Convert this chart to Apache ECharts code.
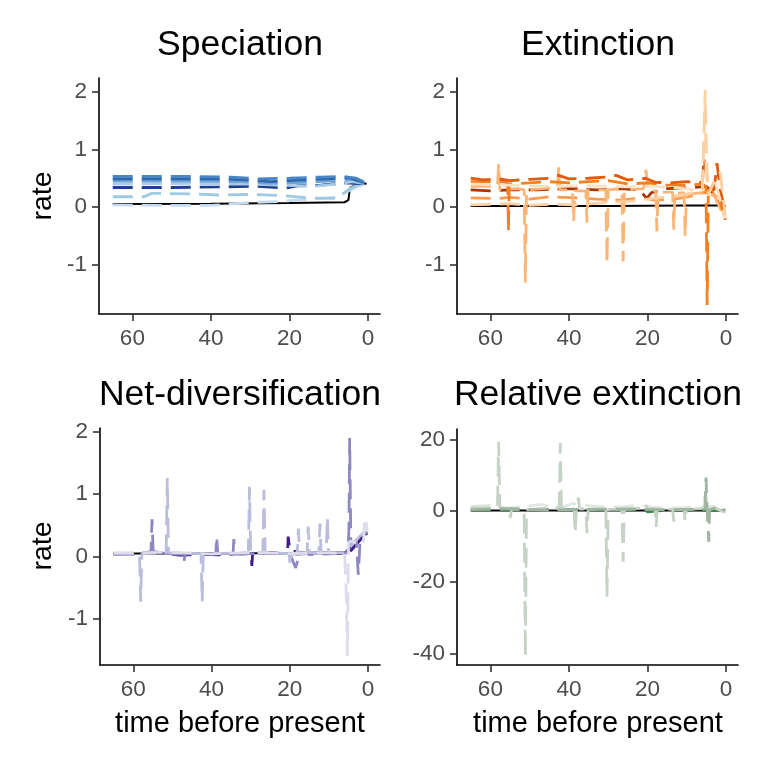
<!DOCTYPE html>
<html><head><meta charset="utf-8">
<script src="https://cdn.jsdelivr.net/npm/echarts@6/dist/echarts.min.js"></script>
<style>html,body{margin:0;padding:0;background:#fff}#c{width:768px;height:768px}</style>
</head><body><div id="c"></div>
<script>
// ---------- tick labels ----------
const timeTicks = [0, 20, 40, 60];
const rateTicksTop = [-1, 0, 1, 2];
const rateTicksNet = [-1, 0, 1, 2];
const relTicks = [-40, -20, 0, 20];
const panelTitles = ['Speciation', 'Extinction', 'Net-diversification', 'Relative extinction'];

// ---------- Speciation ----------
const specTrue = [[65,0.055],[40,0.06],[20,0.07],[6,0.085],[5,0.12],[4.6,0.33],[3,0.40],[2,0.44],[0.4,0.40]];
const spec1 = [[65,0.53],[45,0.53],[35,0.52],[28,0.49],[20,0.50],[12,0.52],[6,0.53],[3,0.50],[0.4,0.42]];
const spec2 = [[65,0.49],[40,0.49],[30,0.47],[25,0.44],[20,0.46],[10,0.49],[5,0.51],[2,0.45],[0.4,0.41]];
const spec3 = [[65,0.45],[45,0.45],[32,0.44],[25,0.41],[15,0.43],[8,0.46],[4,0.48],[0.4,0.40]];
const spec4 = [[65,0.40],[45,0.41],[30,0.40],[22,0.38],[14,0.36],[8,0.40],[4,0.44],[0.4,0.40]];
const spec5 = [[65,0.34],[50,0.34],[38,0.35],[28,0.36],[21,0.33],[18,0.37],[12,0.38],[6,0.42],[0.4,0.40]];
const spec6 = [[65,0.18],[57,0.18],[55,0.24],[45,0.23],[38,0.21],[30,0.22],[22,0.20],[15,0.16],[8,0.15],[5,0.30],[3,0.38],[0.4,0.40]];
const spec7 = [[65,0.04],[50,0.03],[40,0.03],[30,0.08],[22,0.10],[15,0.14],[8,0.17],[5,0.28],[2,0.37],[0.4,0.40]];

// ---------- Extinction ----------
const extTrue = [[65,0.02],[30,0.02],[10,0.03],[0.2,0.03]];
const ext1 = [[65,0.50],[62,0.47],[58,0.49],[55,0.46],[50,0.48],[45,0.50],[42.6,0.55],[40,0.49],[35,0.50],[30.5,0.52],[28,0.55],[25,0.47],[20.5,0.50],[18,0.43],[14,0.42],[10,0.44],[6,0.43],[5.6,0.85],[4.5,0.35],[3,0.30],[2.3,0.76],[1.5,0.3],[0.8,0.1],[0.2,-0.22]];
const ext2 = [[65,0.44],[57,0.44],[55.6,0.42],[55.4,-0.42],[55.2,0.40],[50,0.42],[45,0.44],[40,0.42],[35,0.44],[30,0.46],[25,0.40],[20,0.42],[15,0.38],[10,0.38],[6,0.40],[5.1,0.35],[4.8,-1.69],[4.5,0.30],[3.5,0.3],[2,0.2],[0.2,-0.2]];
const ext3 = [[65,0.36],[58.2,0.36],[57.9,0.76],[57.6,0.30],[53,0.32],[51.4,0.30],[51.1,-1.3],[50.8,0.30],[45,0.33],[42.9,0.33],[42.6,0.69],[42.3,0.30],[39.1,0.30],[38.8,-0.25],[38.5,0.28],[35.7,0.28],[35.4,-0.27],[35.1,0.3],[30.6,0.30],[30.3,-0.97],[30,0.3],[26.5,0.32],[26.2,-0.94],[25.9,0.3],[21,0.32],[20.4,0.65],[19.8,0.3],[17.9,0.28],[17.6,-0.42],[17.3,0.26],[13.6,0.26],[13.3,-0.39],[13.0,0.24],[10.7,0.25],[10.4,-0.5],[10.1,0.22],[6,0.25],[3,0.2],[0.2,-0.2]];
const ext4 = [[65,0.30],[60,0.28],[55,0.30],[48,0.30],[40,0.32],[33,0.30],[27,0.32],[22,0.30],[20.2,0.15],[19,0.25],[15,0.32],[8,0.34],[5,0.36],[0.2,0.0]];
const ext5 = [[65,0.16],[58,0.15],[55,0.17],[50,0.14],[45,0.18],[38,0.16],[33,0.14],[27,0.12],[21,0.16],[18,0.12],[12,0.15],[8,0.20],[5.8,0.25],[4,0.30],[0.2,0]];
const ext6 = [[65,0.04],[60,0.05],[55,0.06],[50,0.03],[45,0.05],[38,0.04],[30,0.08],[25,0.10],[20,0.14],[15,0.18],[10,0.22],[6.0,0.30],[5.6,1.3],[5.3,2.03],[5.0,1.0],[4.6,0.2],[3,0.45],[1.5,0.6],[0.2,-0.15]];
const ext7 = [[65,0.40],[55,0.38],[45,0.36],[35,0.37],[25,0.35],[18,0.36],[12,0.33],[8,0.30],[6,0.3],[5.4,1.8],[5,0.5],[3,0.5],[0.2,-0.2]];

// ---------- Net-diversification ----------
const netTrue = [[65,0.05],[40,0.05],[20,0.06],[5.5,0.07],[4.9,0.10],[4.5,0.22],[3,0.25],[2.0,0.30],[1.2,0.36],[0.2,0.36]];
const net1 = [[65,0.05],[58.4,0.05],[58.1,-0.72],[57.8,0.05],[51.6,0.06],[51.3,1.26],[51.0,0.06],[42.7,0.05],[42.4,-0.72],[42.1,0.05],[30.6,0.06],[30.3,1.12],[30,0.06],[26.9,0.06],[26.6,1.07],[26.3,0.06],[20.2,0.05],[19.9,-0.14],[19.6,0.05],[18.1,0.06],[17.8,0.45],[17.5,0.06],[15.6,0.06],[15.3,0.48],[15.0,0.06],[12.6,0.06],[12.3,0.53],[12.0,0.06],[10.7,0.06],[10.4,0.64],[10.1,0.06],[6,0.06],[1,0.4],[0.2,0.35]];
const net2 = [[65,0.04],[55.5,0.05],[55.2,0.6],[54.9,0.05],[47.2,0.05],[47,-0.08],[46.8,0.05],[38.9,0.05],[38.7,0.32],[38.4,0.05],[34.5,0.05],[34.3,0.28],[34.1,0.05],[20,0.05],[18.5,-0.18],[17.5,0.05],[5.2,0.06],[4.9,0.4],[4.7,1.9],[4.4,0.2],[3.0,0.25],[2.5,-0.29],[2.0,0.3],[0.2,0.4]];
const net3 = [[65,0.04],[56,0.06],[53,0.07],[45,0.04],[38,0.03],[31,0.06],[29.9,0.06],[29.7,-0.15],[29.5,0.05],[22,0.05],[20.6,0.06],[20.4,0.32],[20.0,0.10],[15,0.04],[8,0.05],[5,0.05],[0.2,0.4]];
const net4 = [[65,0.06],[50,0.07],[40,0.04],[30,0.07],[20,0.05],[10,0.06],[6,0.05],[5.6,-0.5],[5.3,-1.59],[5.0,0.2],[4.6,0.25],[2,0.2],[1.2,0.2],[0.9,0.62],[0.5,0.55],[0.2,0.4]];
const net5 = [[65,0.05],[60,0.04],[55,0.08],[48,0.02],[40,0.05],[32,0.04],[25,0.07],[18,0.04],[12,0.06],[6,0.05],[3,0.25],[0.2,0.38]];

// ---------- Relative extinction ----------
const relTrue = [[65,0.1],[30,0.1],[0.2,0.1]];
const rel1 = [[65,0.8],[58.2,0.8],[57.9,19.3],[57.6,0.8],[55.2,0.5],[54.9,-2.0],[54.6,0.5],[51.4,0.3],[51.1,-40.9],[50.8,0.3],[45,0.8],[42.5,0.8],[42.2,19.0],[41.9,0.8],[38.7,0.5],[38.4,-6.3],[38.1,0.5],[37.9,0.5],[37.6,3.7],[37.3,0.5],[35.7,0.5],[35.4,-6.3],[35.1,0.5],[30.6,0.4],[30.3,-24.1],[30.0,0.4],[26.5,0.4],[26.2,-14.3],[25.9,0.4],[21,0.8],[20.5,1.9],[20,0.6],[18.1,0.5],[17.8,-4.5],[17.5,0.5],[13.6,0.4],[13.3,-3.0],[13,0.4],[10.7,0.4],[10.4,-3.0],[10.1,0.4],[6,0.6],[5.5,1.5],[5.2,5.3],[4.9,1.5],[3,0.8],[0.2,-0.5]];
const rel2 = [[65,0.3],[55,0.6],[45,0.2],[35,0.4],[25,0.5],[15,0.3],[6,0.4],[5.4,0.5],[5.1,9.3],[4.8,0.5],[4.6,0.3],[4.4,-8.7],[4.2,0.3],[2,1.0],[0.2,0.2]];
const rel3 = [[65,1.2],[60,1.5],[56,0.8],[53,1.0],[47,1.8],[43,0.6],[39,2.0],[33,1.2],[27,1.0],[22,1.6],[18,0.9],[12,0.8],[7,1.0],[3,1.2],[0.2,-0.8]];
const rel4 = [[65,0.2],[40,0.3],[30,0.2],[20.5,0.3],[20,-0.3],[15,0.2],[5,0.1],[0.2,0]];

// ---------- styling / layout (not data) ----------
const FONT = '"Liberation Sans", Arial, Helvetica, sans-serif';
const grids = [
  {left: 99, top: 78, width: 281, height: 236},
  {left: 457, top: 78, width: 281, height: 236},
  {left: 100, top: 428, width: 280, height: 237},
  {left: 457, top: 429, width: 281, height: 236}
];
const yRanges = [[-1.846, 2.232], [-1.846, 2.232], [-1.735, 2.06], [-43.2, 22.9]];
const yTicks = [rateTicksTop, rateTicksTop, rateTicksNet, relTicks];

const seriesSpec = [
  // panel, data, color, dashed
  [0, specTrue, '#000000', false],
  [0, spec7, '#c6dbef', true],
  [0, spec6, '#9ecae1', true],
  [0, spec5, '#1f3f8f', true],
  [0, spec4, '#a9cbe8', true],
  [0, spec3, '#6fa6d6', true],
  [0, spec2, '#2f67ad', true],
  [0, spec1, '#4a85c4', true],

  [1, extTrue, '#000000', false],
  [1, ext5, '#fd9a4e', true],
  [1, ext4, '#a63603', true],
  [1, ext3, '#fdb577', true],
  [1, ext2, '#f5801f', true],
  [1, ext1, '#e25a0b', true],
  [1, ext7, '#fee0c2', true],
  [1, ext6, '#fdd0a2', true],

  [2, netTrue, '#000000', false],
  [2, net5, '#6a51a3', true],
  [2, net3, '#3f1d8a', true],
  [2, net2, '#8d89c0', true],
  [2, net1, '#bcbddc', true],
  [2, net4, '#dddcec', true],

  [3, relTrue, '#000000', false],
  [3, rel4, '#3f7f4f', true],
  [3, rel3, '#dfe8df', true],
  [3, rel1, '#c5d3c6', true],
  [3, rel2, '#9fb5a1', true]
];

const xAxes = grids.map((g, i) => ({
  type: 'value', gridIndex: i, inverse: true, min: -3.05, max: 68.5,
  axisLine: {onZero: false, lineStyle: {color: '#000', width: 1.6}},
  axisTick: {show: true, length: 7, lineStyle: {color: '#333', width: 1.6}, customValues: timeTicks},
  axisLabel: {customValues: timeTicks, color: '#4d4d4d', fontSize: 22.5, fontFamily: FONT, margin: 13},
  splitLine: {show: false}
}));
const yAxes = grids.map((g, i) => ({
  type: 'value', gridIndex: i, min: yRanges[i][0], max: yRanges[i][1],
  axisLine: {show: true, onZero: false, lineStyle: {color: '#000', width: 1.6}},
  axisTick: {show: true, length: 7, lineStyle: {color: '#333', width: 1.6}, customValues: yTicks[i]},
  axisLabel: {customValues: yTicks[i], color: '#4d4d4d', fontSize: 22.5, fontFamily: FONT, margin: 12},
  splitLine: {show: false}
}));

const series = seriesSpec.map(([p, d, c, dashed], k) => ({
  type: 'line', xAxisIndex: p, yAxisIndex: p, data: d,
  showSymbol: false, symbol: 'none', silent: true, z: dashed ? 3 : 2,
  lineStyle: {color: c, width: dashed ? 2.8 : 2, type: dashed ? [20, 9] : 'solid'}
}));

const titleCenters = [[240, 45], [598, 45], [240, 395], [598, 395]];
const graphics = panelTitles.map((t, i) => ({
  type: 'text', x: titleCenters[i][0], y: titleCenters[i][1],
  style: {text: t, fontSize: 35.5, fontFamily: FONT, fill: '#000', align: 'center', verticalAlign: 'middle', textAlign: 'center', textVerticalAlign: 'middle'}
}));
[[43, 196], [43, 546]].forEach(([x, y]) => graphics.push({
  type: 'text', x: x, y: y, rotation: Math.PI / 2,
  style: {text: 'rate', fontSize: 28.5, fontFamily: FONT, fill: '#000', align: 'center', verticalAlign: 'middle', textAlign: 'center', textVerticalAlign: 'middle'}
}));
[[240, 724], [598, 724]].forEach(([x, y]) => graphics.push({
  type: 'text', x: x, y: y,
  style: {text: 'time before present', fontSize: 29, fontFamily: FONT, fill: '#000', align: 'center', verticalAlign: 'middle', textAlign: 'center', textVerticalAlign: 'middle'}
}));

const chart = echarts.init(document.getElementById('c'), null, {renderer: 'canvas'});
chart.setOption({
  animation: false,
  backgroundColor: '#ffffff',
  grid: grids.map(g => Object.assign({outerBoundsMode: 'none', containLabel: false}, g)),
  xAxis: xAxes,
  yAxis: yAxes,
  series: series,
  graphic: graphics
});
</script></body></html>
